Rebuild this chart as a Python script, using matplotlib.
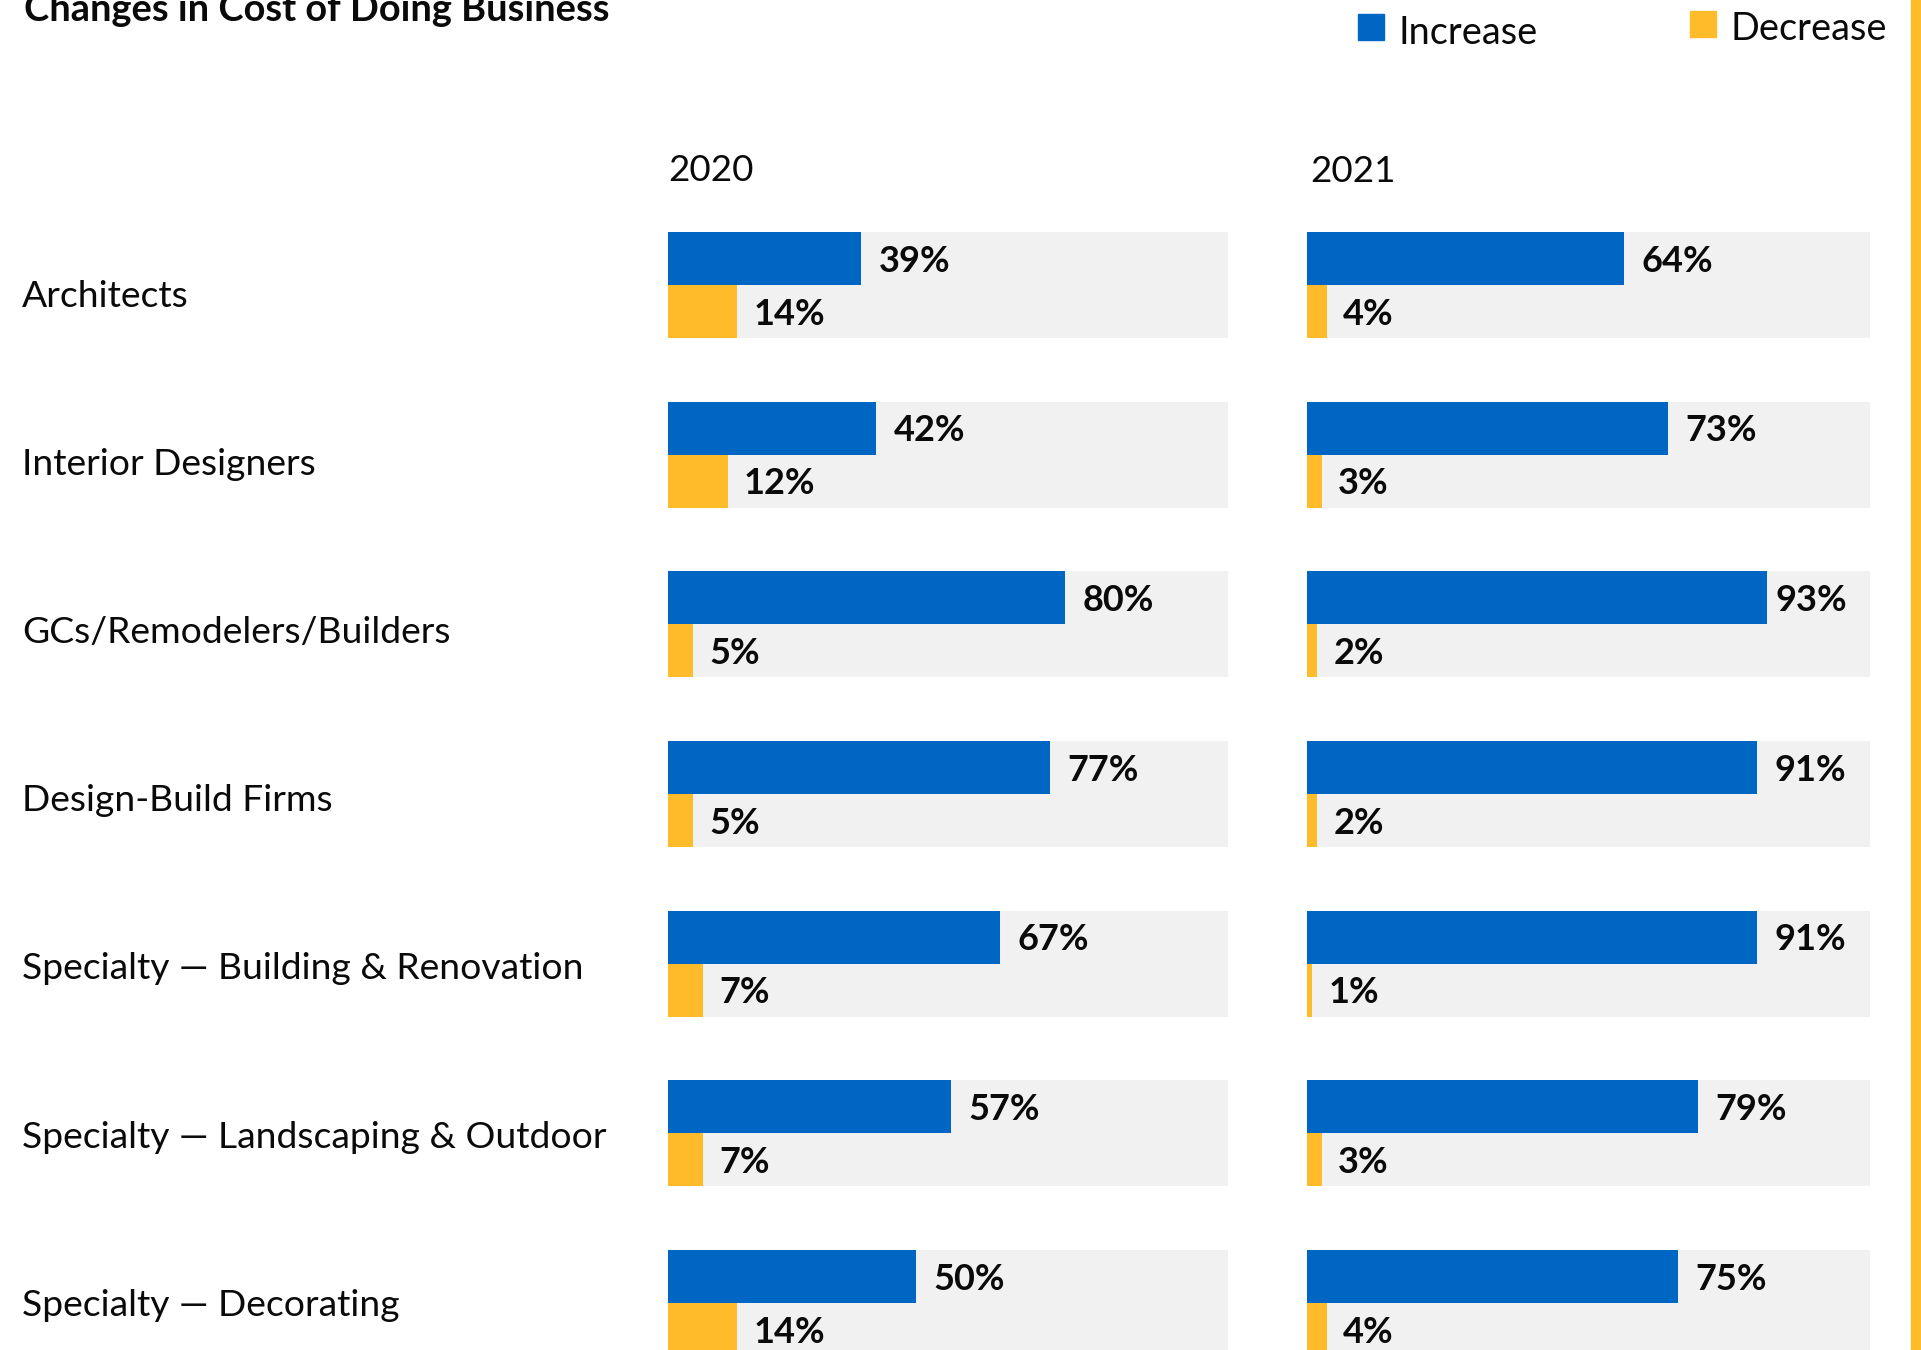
import matplotlib.pyplot as plt
from matplotlib.patches import Rectangle
from matplotlib import transforms
import numpy as np

plt.rcParams['font.family'] = ['Lato', 'DejaVu Sans']

# data
categories = ['Architects', 'Interior Designers', 'GCs/Remodelers/Builders',
              'Design-Build Firms', 'Specialty \u2014 Building & Renovation',
              'Specialty \u2014 Landscaping & Outdoor', 'Specialty \u2014 Decorating']
years = ['2020', '2021']
increase_2020 = [39, 42, 80, 77, 67, 57, 50]
decrease_2020 = [14, 12, 5, 5, 7, 7, 14]
increase_2021 = [64, 73, 93, 91, 91, 79, 75]
decrease_2021 = [4, 3, 2, 2, 1, 3, 4]

BLUE = '#0066c4'
YELLOW = '#ffbb29'
TRACK = '#f1f1f1'
INK = '#0a0a0a'

W, H = 1921, 1350
fig = plt.figure(figsize=(W / 100, H / 100), dpi=100)

# row layout (pixels)
pitch = 169.67
label_pitch = 168.1
first_center = 285
bar_h = 53 / pitch
ax_top = first_center - 0.5 * pitch
y_bottom = (H - first_center) / pitch

panels = [
    # left px, px per percent, track length (%), values
    (668, 4.96, 113.0, increase_2020, decrease_2020),
    (1307, 4.95, 113.7, increase_2021, decrease_2021),
]

y = np.arange(len(categories))
axes = []
for left, ppp, xmax, inc, dec in panels:
    ax = fig.add_axes([left / W, 0, xmax * ppp / W, (H - ax_top) / H])
    ax.set_xlim(0, xmax)
    ax.set_ylim(y_bottom, -0.5)
    ax.axis('off')
    ax.barh(y, [xmax] * len(y), height=2 * bar_h, color=TRACK)
    ax.barh(y - bar_h / 2, inc, height=bar_h, color=BLUE)
    ax.barh(y + bar_h / 2, dec, height=bar_h, color=YELLOW)
    for i, (a, b) in enumerate(zip(inc, dec)):
        ax.annotate(f'{a}%', xy=(min(a + 3.5, 94.6), i - bar_h / 2), xytext=(0, -9.5),
                    textcoords='offset points', va='baseline', ha='left',
                    fontsize=26, fontweight='bold', color=INK)
        ax.annotate(f'{b}%', xy=(b + 3.3, i + bar_h / 2), xytext=(0, -9.5),
                    textcoords='offset points', va='baseline', ha='left',
                    fontsize=26, fontweight='bold', color=INK)
    axes.append(ax)

# category labels on the left
trans = transforms.offset_copy(
    transforms.blended_transform_factory(fig.transFigure, axes[0].transData),
    fig=fig, x=0, y=-22, units='dots')
for i, name in enumerate(categories):
    fig.text(22 / W, i * label_pitch / pitch, name, transform=trans, fontsize=26.8,
             va='baseline', ha='left', color=INK)

# year headers
fig.text(668 / W, 1 - 181 / H, years[0], fontsize=26.5, va='baseline', color=INK)
fig.text(1310 / W, 1 - 182 / H, years[1], fontsize=26.5, va='baseline', color=INK)

# title, partly cut off at the top edge
fig.text(24 / W, 1 - 21 / H, 'Changes in Cost of Doing Business', fontsize=27.4,
         fontweight='bold', va='baseline', color=INK)

# legend
fig.patches.append(Rectangle((1358 / W, 1 - 40 / H), 26 / W, 26 / H,
                             transform=fig.transFigure, color=BLUE))
fig.text(1399 / W, 1 - 43.5 / H, 'Increase', fontsize=27.3, va='baseline', color=INK)
fig.patches.append(Rectangle((1690 / W, 1 - 37 / H), 26 / W, 26 / H,
                             transform=fig.transFigure, color=YELLOW))
fig.text(1731 / W, 1 - 40.5 / H, 'Decrease', fontsize=27.3, va='baseline', color=INK)

# accent stripe on the right edge
fig.patches.append(Rectangle((1911 / W, 0), 10 / W, 1, transform=fig.transFigure,
                             color=YELLOW))

fig.savefig('out.png', dpi=100, facecolor='white')
